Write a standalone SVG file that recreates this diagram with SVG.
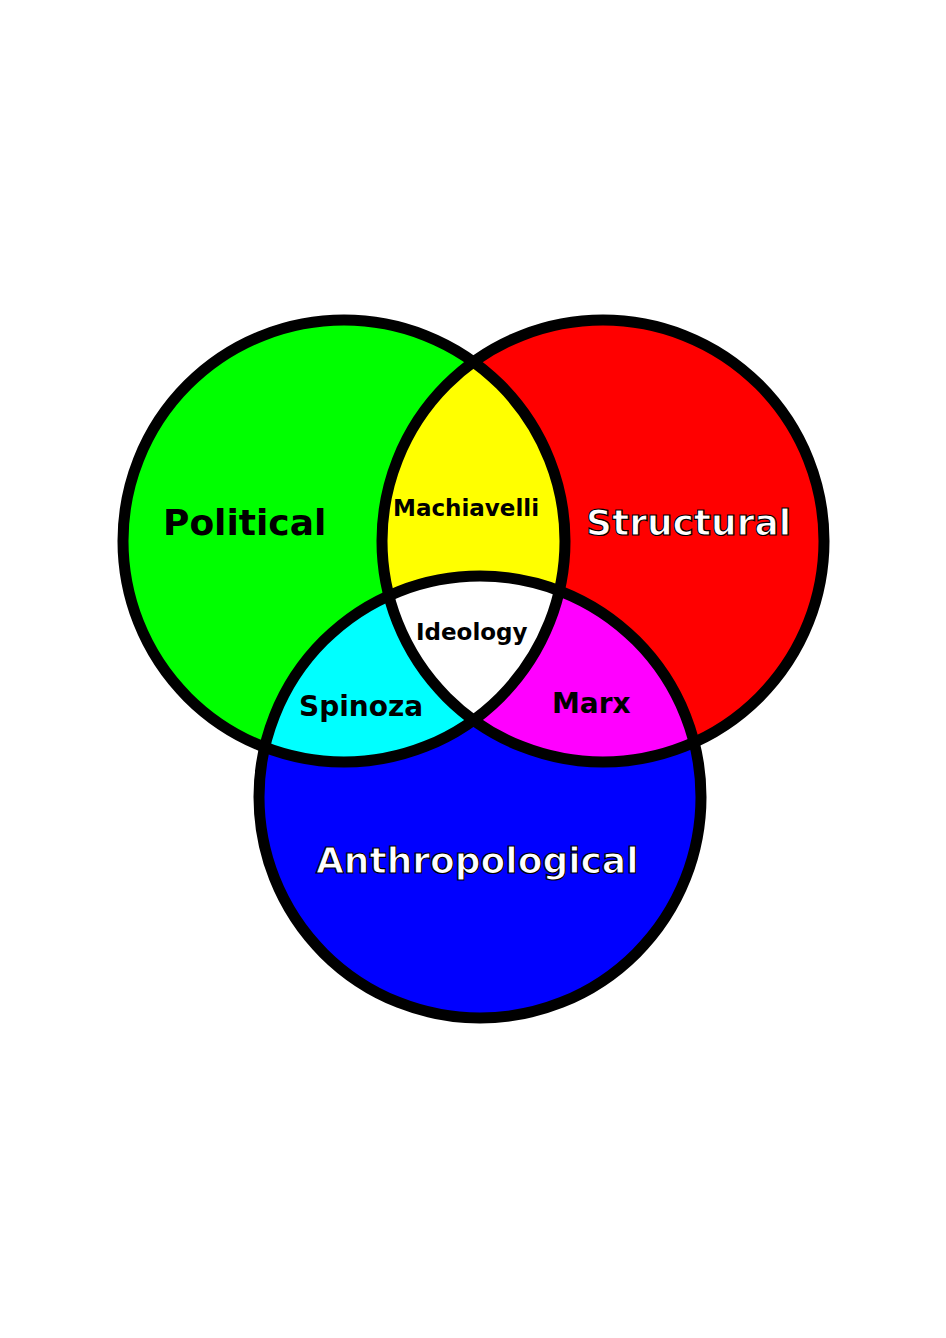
<svg xmlns="http://www.w3.org/2000/svg" width="946" height="1338" viewBox="0 0 946 1338">
<style>
.o{fill:none;stroke:#000;stroke-width:11}
text{font-family:"DejaVu Sans",sans-serif;font-weight:bold}
.w{fill:#fff;stroke:#000;stroke-width:1.2}
</style>
<defs>
<clipPath id="cg"><circle cx="344" cy="541" r="221"/></clipPath>
<clipPath id="cr"><circle cx="603" cy="541" r="221"/></clipPath>
<clipPath id="crg" clip-path="url(#cg)"><circle cx="603" cy="541" r="221"/></clipPath>
</defs>
<rect width="946" height="1338" fill="#fff"/>
<g id="fills">
<circle cx="344" cy="541" r="221" fill="#0f0"/>
<circle cx="603" cy="541" r="221" fill="#f00"/>
<circle cx="480" cy="797" r="221" fill="#00f"/>
<circle cx="603" cy="541" r="221" fill="#ff0" clip-path="url(#cg)"/>
<circle cx="480" cy="797" r="221" fill="#0ff" clip-path="url(#cg)"/>
<circle cx="480" cy="797" r="221" fill="#f0f" clip-path="url(#cr)"/>
<circle cx="480" cy="797" r="221" fill="#fff" clip-path="url(#crg)"/>
</g>
<g id="connectors">
<circle class="o" cx="344" cy="541" r="221"/>
<circle class="o" cx="603" cy="541" r="221"/>
<circle class="o" cx="480" cy="797" r="221"/>
</g>
<g id="political"><text x="163" y="535" font-size="36">Political</text></g>
<g id="structural"><text class="w" x="586" y="535" font-size="36">Structural</text></g>
<g id="anthropological"><text class="w" x="316" y="873" font-size="36">Anthropological</text></g>
<g id="machiavelli"><text x="393" y="516" font-size="23">Machiavelli</text></g>
<g id="ideology"><text x="416" y="640" font-size="23">Ideology</text></g>
<g id="spinoza"><text x="299" y="716" font-size="28">Spinoza</text></g>
<g id="marx"><text x="552" y="713" font-size="28">Marx</text></g>
</svg>
